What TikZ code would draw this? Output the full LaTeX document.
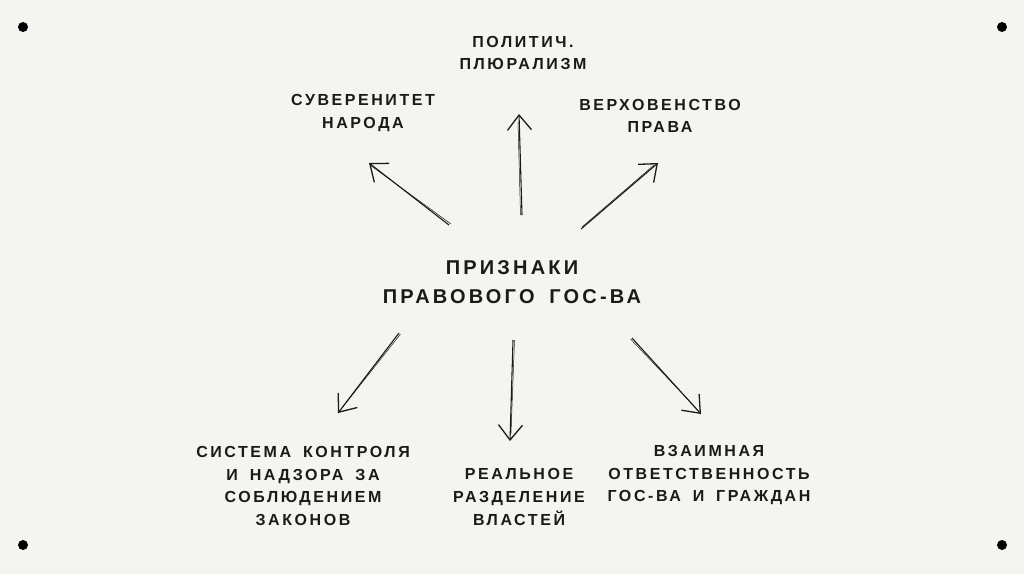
\documentclass[tikz,border=0pt]{standalone}
\usepackage{fontspec}
\setmainfont{Liberation Sans}[LetterSpace=16, WordSpace=1.7]
\usetikzlibrary{arrows.meta}
\definecolor{bg}{HTML}{F4F4F0}
\definecolor{ink}{HTML}{1A1A1A}
\tikzset{
  lbl/.style={align=center, text=ink, font=\bfseries\fontsize{16}{22.8}\selectfont, inner sep=0pt},
  big/.style={align=center, text=ink, font=\bfseries\fontsize{20}{29}\selectfont, inner sep=0pt},
  sk/.style={draw=ink, line width=1.1pt, -{Straight Barb[length=15pt,width=24pt,line width=1.3pt]}},
  sk2/.style={draw=ink, line width=0.5pt},
  dot/.style={fill=black, circle, inner sep=0pt, minimum size=10pt}
}
\begin{document}
\begin{tikzpicture}[x=1pt,y=-1pt]
\fill[bg] (0,0) rectangle (1024,574);
\useasboundingbox (0,0) rectangle (1024,574);
% corner dots
\node[dot] (d1) at (23,27) {};
\node[dot] (d2) at (1002,27) {};
\node[dot] (d3) at (23,545) {};
\node[dot] (d4) at (1002,545) {};
% labels
\node[big] (c) at (512,282) {ПРИЗНАКИ\\ПРАВОВОГО ГОС-ВА};
\node[lbl] (t) at (523,53) {ПОЛИТИЧ.\\ПЛЮРАЛИЗМ};
\node[lbl] (tl) at (363,113) {СУВЕРЕНИТЕТ\\НАРОДА};
\node[lbl] (tr) at (660,116) {ВЕРХОВЕНСТВО\\ПРАВА};
\node[lbl] (bl) at (303,486) {СИСТЕМА КОНТРОЛЯ\\И НАДЗОРА ЗА\\СОБЛЮДЕНИЕМ\\ЗАКОНОВ};
\node[lbl] (bm) at (519,497) {РЕАЛЬНОЕ\\РАЗДЕЛЕНИЕ\\ВЛАСТЕЙ};
\node[lbl] (br) at (709,475) {ВЗАИМНАЯ\\ОТВЕТСТВЕННОСТЬ\\ГОС-ВА И ГРАЖДАН};
% arrow end points
\coordinate (a1s) at (449,225); \coordinate (a1e) at (369,163);
\coordinate (a2s) at (522,215); \coordinate (a2e) at (519,114);
\coordinate (a3s) at (581,229); \coordinate (a3e) at (658,163);
\coordinate (a4s) at (399,333); \coordinate (a4e) at (338,413);
\coordinate (a5s) at (513,340); \coordinate (a5e) at (510,441);
\coordinate (a6s) at (632,338); \coordinate (a6e) at (701,414);
% arrows
\draw[sk] (a1s) -- (a1e);
\draw[sk2] ([shift={(2,-1)}]a1s) -- ([shift={(1,2)}]a1e);
\draw[sk] (a2s) -- (a2e);
\draw[sk2] ([shift={(-1.5,0)}]a2s) -- ([shift={(-1,8)}]a2e);
\draw[sk] (a3s) -- (a3e);
\draw[sk2] ([shift={(1,-2)}]a3s) -- ([shift={(-4,2)}]a3e);
\draw[sk] (a4s) -- (a4e);
\draw[sk2] ([shift={(1.5,1)}]a4s) -- ([shift={(4,-5)}]a4e);
\draw[sk] (a5s) -- (a5e);
\draw[sk2] ([shift={(1.5,0)}]a5s) -- ([shift={(1,-8)}]a5e);
\draw[sk] (a6s) -- (a6e);
\draw[sk2] ([shift={(-1.5,1)}]a6s) -- ([shift={(-5,-6)}]a6e);
\end{tikzpicture}
\end{document}
